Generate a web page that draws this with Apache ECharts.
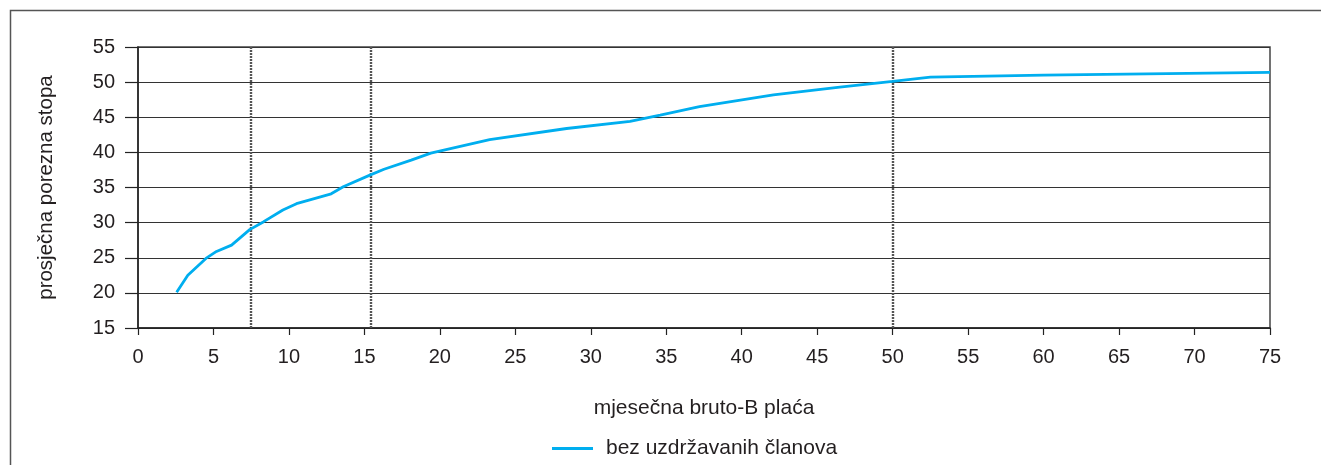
<!DOCTYPE html>
<html>
<head>
<meta charset="utf-8">
<script src="https://cdn.jsdelivr.net/npm/echarts@6/dist/echarts.min.js"></script>
<style>
html,body{margin:0;padding:0;background:#fff;}
#c{width:1321px;height:465px;}
</style>
</head>
<body>
<div id="c"></div>
<script>
// data
var salary = [2.56, 3.3, 4.5, 5.2, 6.2, 7.4, 8.3, 9.6, 10.5, 12.8, 13.6, 15.4, 16.3, 18.1, 19.4, 23.3, 28.4, 32.6, 34.6, 37.2, 42.1, 46.5, 50.0, 52.5, 60, 75];
var rate   = [20.1, 22.5, 24.9, 25.9, 26.8, 29.0, 30.1, 31.8, 32.7, 34.1, 35.1, 36.8, 37.6, 38.9, 39.9, 41.8, 43.4, 44.4, 45.3, 46.5, 48.2, 49.3, 50.1, 50.7, 51.0, 51.4];
var thresholds = [7.5, 15.4, 50];
var seriesName = 'bez uzdržavanih članova';
var xName = 'mjesečna bruto-B plaća';
var yName = 'prosječna porezna stopa';

var pts = salary.map(function (x, i) { return [x, rate[i]]; });
var font = 'Liberation Sans, Arial, sans-serif';
var txt = '#231f20';

var chart = echarts.init(document.getElementById('c'), null, {renderer: 'canvas'});
chart.setOption({
  animation: false,
  backgroundColor: '#fff',
  textStyle: {fontFamily: font, color: txt},
  grid: {left: 138, right: 51, top: 47, bottom: 137, show: true, borderColor: '#444', borderWidth: 1.5},
  xAxis: {
    type: 'value', min: 0, max: 75, interval: 5,
    name: xName, nameLocation: 'middle', nameGap: 70,
    nameTextStyle: {fontSize: 21, color: txt, fontFamily: font},
    axisLine: {show: true, lineStyle: {color: '#222', width: 1.5}},
    axisTick: {show: true, length: 7, lineStyle: {color: '#222', width: 1.2}},
    axisLabel: {fontSize: 20, color: txt, margin: 19, fontFamily: font},
    splitLine: {show: false}
  },
  yAxis: {
    type: 'value', min: 15, max: 55, interval: 5,
    name: yName, nameLocation: 'middle', nameGap: 81, nameRotate: 90,
    nameTextStyle: {fontSize: 20.5, color: txt, fontFamily: font},
    axisLine: {show: true, lineStyle: {color: '#222', width: 1.5}},
    axisTick: {show: true, length: 13, lineStyle: {color: '#222', width: 1.2}},
    axisLabel: {fontSize: 20, color: txt, margin: 23, fontFamily: font},
    splitLine: {show: true, lineStyle: {color: '#333', width: 1.2}}
  },
  legend: {
    data: [seriesName], left: 547, top: 433,
    icon: 'rect', itemWidth: 41, itemHeight: 3, itemGap: 10,
    textStyle: {fontSize: 21, color: txt, fontFamily: font, padding: [0, 0, 0, 8]}
  },
  graphic: [{
    type: 'polyline', silent: true,
    shape: {points: [[10.5, 465], [10.5, 10.5], [1321, 10.5]]},
    style: {stroke: '#555', lineWidth: 1.5, fill: null}
  }],
  series: [{
    name: seriesName, type: 'line', data: pts,
    showSymbol: false, symbol: 'none', smooth: false,
    lineStyle: {color: '#00aeef', width: 2.8},
    itemStyle: {color: '#00aeef'},
    z: 5,
    markLine: {
      silent: true, symbol: 'none', label: {show: false},
      lineStyle: {color: '#555', width: 2.4, type: [2, 1]},
      data: thresholds.map(function (v) { return {xAxis: v}; }),
      z: 3
    }
  }]
});
</script>
</body>
</html>
